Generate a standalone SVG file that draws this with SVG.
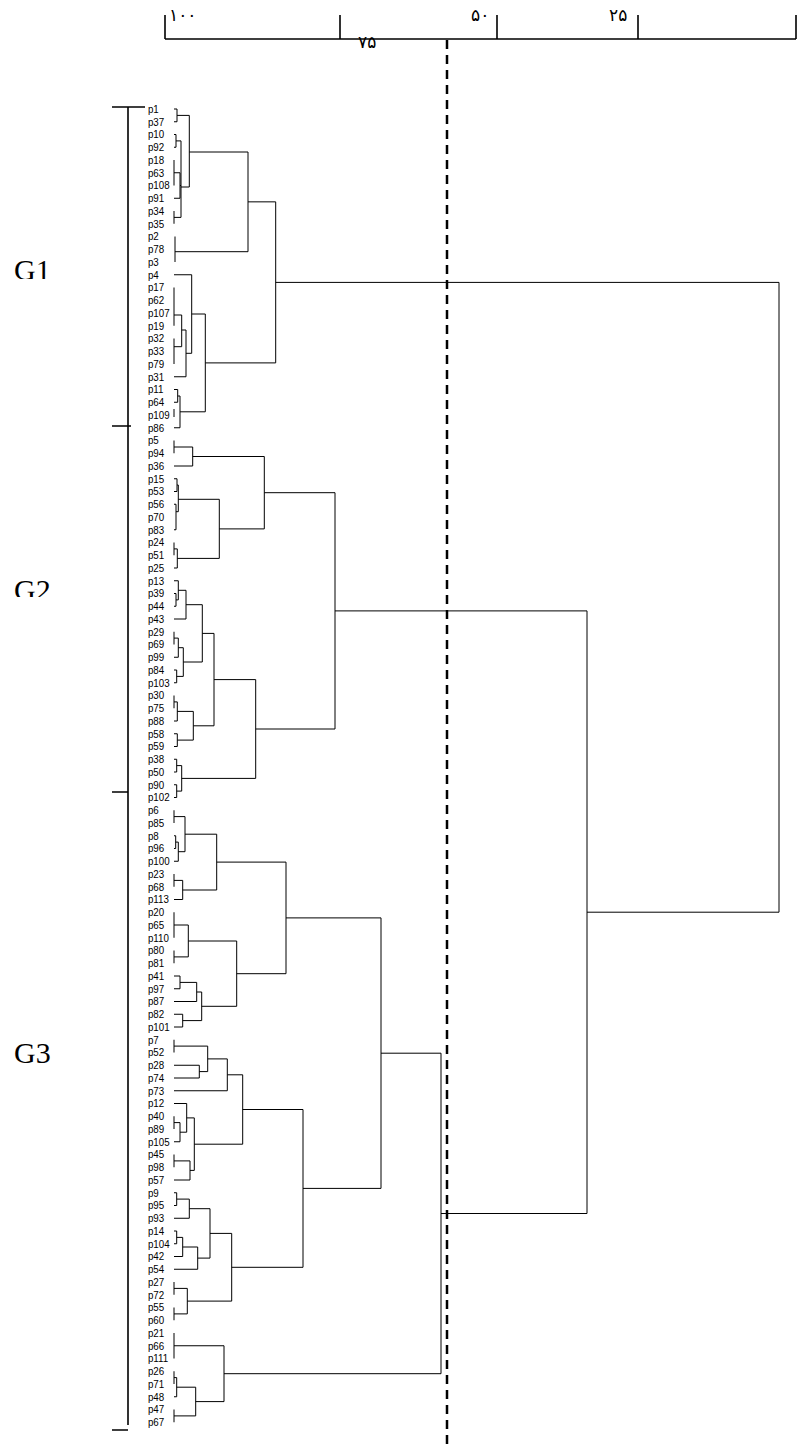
<svg xmlns="http://www.w3.org/2000/svg" width="806" height="1447" viewBox="0 0 806 1447">
<style>
.ln{fill:none;stroke:#000;stroke-width:1}
.ax{fill:none;stroke:#000;stroke-width:1.6}
.lb{font-family:"Liberation Sans Narrow","Liberation Sans",Arial,sans-serif;font-size:11.5px;fill:#000}
.gl{font-family:"Liberation Serif","Times New Roman",serif;font-size:30px;fill:#000}
.fa{font-family:"DejaVu Sans","Noto Sans",sans-serif;font-size:17px;fill:#000}
</style>
<defs>
<clipPath id="c1"><rect x="0" y="240" width="110" height="39"/></clipPath>
<clipPath id="c2"><rect x="0" y="560" width="110" height="37"/></clipPath>
</defs>
<rect width="806" height="1447" fill="#fff"/>
<g id="axis">
<path class="ax" d="M165 39 H796 M165 15 V39 M340 15 V39 M497 15 V39 M638 15 V39 M796 15 V39"/>
<text class="fa" x="169" y="21">۱۰۰</text>
<text class="fa" x="358" y="48">۷۵</text>
<text class="fa" x="471" y="21">۵۰</text>
<text class="fa" x="609" y="21">۲۵</text>
</g>
<g id="cutline">
<path d="M447 40 V1447" fill="none" stroke="#000" stroke-width="2.5" stroke-dasharray="9 6"/>
</g>
<g id="groupbar">
<path class="ax" d="M128 107 V1425 M112 107 H145 M112 426 H131 M112 792 H128 M112 1430 H128"/>
</g>
<g id="group-G1"><text class="gl" x="14" y="280" clip-path="url(#c1)">G1</text></g>
<g id="group-G2"><text class="gl" x="14" y="600" clip-path="url(#c2)">G2</text></g>
<g id="group-G3"><text class="gl" x="14" y="1063">G3</text></g>
<g id="connectors">
<path class="ln" d="M174 109 H177 V121.75 H174 M177 115.4 H189.3
M174 134.5 H176 V147.25 H174 M176 140.9 H181
M174 160 V185.5 M174 172.75 H180 V198.25 H174 M180 185.5 H181
M174 211 V223.75 M174 217.4 H181
M181 140.9 V217.4 M181 187 H189.3
M189.3 115.4 V187 M189.3 152 H248
M175 236.5 V262 M175 251.7 H248
M248 152 V251.7 M248 201.85 H275.7
M174 287.5 V325.75 M174 315 H181.7
M174 338.5 V364 M174 346.7 H181.7
M181.7 315 V346.7 M181.7 330 H186
M186 330 V376.75 H174 M186 353.3 H191.7
M174 274.75 H191.7 V353.3 M191.7 314 H205.3
M174 389.5 H177.7 V402.25 H174 M177.7 396 H180
M174 409 V417 M180 396 V427.75 H174 M180 411.8 H205.3
M205.3 314 V411.8 M205.3 362.9 H275.7
M275.7 201.85 V362.9 M275.7 282.4 H779"/>
<path class="ln" d="M174 440.5 V453.25 M174 447 H192.7 M174 466 H192.7 M192.7 447 V466 M192.7 456.5 H264.3
M174 478.75 H177 V491.5 H174 M177 485 H178.3
M174 504.25 H176 V529.75 H174 M176 511.7 H178.3
M178.3 485 V511.7 M178.3 499.3 H219.3
M174 542.5 V555.25 M174 548.9 H177.3 V568 H174 M177.3 558.4 H219.3
M219.3 499.3 V558.4 M219.3 528.9 H264.3
M264.3 456.5 V528.9 M264.3 492.7 H335
M174 593.5 H176 V606.25 H174 M176 599.9 H178.3
M174 580.75 H178.3 V599.9 M178.3 590.3 H186
M174 619 H186 V590.3 M186 604.7 H202.3
M174 631.75 V644.5 M174 638.1 H178.3 V657.25 H174 M178.3 647.7 H183.3
M174 670 H176.7 V682.75 H174 M176.7 676.4 H183.3
M183.3 647.7 V676.4 M183.3 662 H202.3
M202.3 604.7 V662 M202.3 633.4 H214
M174 695.5 V708.25 M174 701.9 H177.3 V721 H174 M177.3 711.4 H193.3
M174 733.75 H177.3 V746.5 H174 M177.3 740.1 H193.3
M193.3 711.4 V740.1 M193.3 725.8 H214
M214 633.4 V725.8 M214 679.6 H255.7
M174 759.25 H176.7 V772 H174 M176.7 765.6 H181.7
M174 784.75 H176.7 V797.5 H174 M176.7 791.1 H181.7
M181.7 765.6 V791.1 M181.7 778.4 H255.7
M255.7 679.6 V778.4 M255.7 729 H335
M335 492.7 V729 M335 610.9 H587"/>
<path class="ln" d="M174 810.25 V823 M174 816.6 H185
M174 835.75 H175.7 V848.5 H174 M175.7 842.1 H178.3
M178.3 842.1 V861.25 H174 M178.3 851.7 H185
M185 816.6 V851.7 M185 834.2 H216.7
M174 874 V886.75 M174 880.4 H182.7 V899.5 H174 M182.7 890 H216.7
M216.7 834.2 V890 M216.7 862.1 H286
M174 912.25 V937.75 M174 925 H188.3
M174 950.5 V963.25 M174 956.9 H188.3
M188.3 925 V956.9 M188.3 941 H236.7
M174 976 H180 V988.75 H174 M180 982.4 H196.7
M196.7 982.4 V1001.5 H174 M196.7 992 H201.7
M174 1014.25 H182.7 V1027 H174 M182.7 1020.6 H201.7
M201.7 992 V1020.6 M201.7 1006.3 H236.7
M236.7 941 V1006.3 M236.7 973.7 H286
M286 862.1 V973.7 M286 917.9 H381
M174 1039.75 V1052.5 M174 1046.1 H207.7
M174 1065.25 H199.3 V1078 H174 M199.3 1071.6 H207.7
M207.7 1046.1 V1071.6 M207.7 1058.9 H227.3
M227.3 1058.9 V1090.75 H174 M227.3 1074.8 H242.7
M174 1116.25 V1129 M174 1122.6 H180 V1141.75 H174 M180 1132.2 H186.7
M174 1103.5 H186.7 V1132.2 M186.7 1117.9 H194.3
M174 1154.5 V1167.25 M174 1160.9 H190 V1180 H174 M190 1170.4 H194.3
M194.3 1117.9 V1170.4 M194.3 1144.2 H242.7
M242.7 1074.8 V1144.2 M242.7 1109.5 H303
M174 1192.75 H176.7 V1205.5 H174 M176.7 1199.1 H189.3
M189.3 1199.1 V1218.25 H174 M189.3 1208.7 H210
M174 1231 H176.7 V1243.75 H174 M176.7 1237.4 H182.7
M182.7 1237.4 V1256.5 H174 M182.7 1247 H197.7
M197.7 1247 V1269.25 H174 M197.7 1258.1 H210
M210 1208.7 V1258.1 M210 1233.4 H231.7
M174 1282 V1294.75 M174 1288.4 H187.3
M174 1307.5 V1320.25 M174 1313.9 H187.3
M187.3 1288.4 V1313.9 M187.3 1301.1 H231.7
M231.7 1233.4 V1301.1 M231.7 1267.3 H303
M303 1109.5 V1267.3 M303 1188.4 H381
M381 917.9 V1188.4 M381 1053.2 H441
M174 1333 V1358.5 M174 1345.75 H224
M174 1371.25 V1384 M174 1377.6 H176.7 V1396.75 H174 M176.7 1387.2 H195.7
M174 1409.5 V1422.25 M174 1415.9 H195.7
M195.7 1387.2 V1415.9 M195.7 1401.6 H224
M224 1345.75 V1401.6 M224 1373.7 H441
M441 1053.2 V1373.7 M441 1213.5 H587
M587 610.9 V1213.5 M587 912.2 H779
M779 282.4 V912.2"/>
</g>
<g id="leaves" transform="scale(0.85,1)">
<g id="p1"><text class="lb" x="174" y="113">p1</text></g>
<g id="p37"><text class="lb" x="174" y="125.75">p37</text></g>
<g id="p10"><text class="lb" x="174" y="138.5">p10</text></g>
<g id="p92"><text class="lb" x="174" y="151.25">p92</text></g>
<g id="p18"><text class="lb" x="174" y="164">p18</text></g>
<g id="p63"><text class="lb" x="174" y="176.75">p63</text></g>
<g id="p108"><text class="lb" x="174" y="189.5">p108</text></g>
<g id="p91"><text class="lb" x="174" y="202.25">p91</text></g>
<g id="p34"><text class="lb" x="174" y="215">p34</text></g>
<g id="p35"><text class="lb" x="174" y="227.75">p35</text></g>
<g id="p2"><text class="lb" x="174" y="240.5">p2</text></g>
<g id="p78"><text class="lb" x="174" y="253.25">p78</text></g>
<g id="p3"><text class="lb" x="174" y="266">p3</text></g>
<g id="p4"><text class="lb" x="174" y="278.75">p4</text></g>
<g id="p17"><text class="lb" x="174" y="291.5">p17</text></g>
<g id="p62"><text class="lb" x="174" y="304.25">p62</text></g>
<g id="p107"><text class="lb" x="174" y="317">p107</text></g>
<g id="p19"><text class="lb" x="174" y="329.75">p19</text></g>
<g id="p32"><text class="lb" x="174" y="342.5">p32</text></g>
<g id="p33"><text class="lb" x="174" y="355.25">p33</text></g>
<g id="p79"><text class="lb" x="174" y="368">p79</text></g>
<g id="p31"><text class="lb" x="174" y="380.75">p31</text></g>
<g id="p11"><text class="lb" x="174" y="393.5">p11</text></g>
<g id="p64"><text class="lb" x="174" y="406.25">p64</text></g>
<g id="p109"><text class="lb" x="174" y="419">p109</text></g>
<g id="p86"><text class="lb" x="174" y="431.75">p86</text></g>
<g id="p5"><text class="lb" x="174" y="444.5">p5</text></g>
<g id="p94"><text class="lb" x="174" y="457.25">p94</text></g>
<g id="p36"><text class="lb" x="174" y="470">p36</text></g>
<g id="p15"><text class="lb" x="174" y="482.75">p15</text></g>
<g id="p53"><text class="lb" x="174" y="495.5">p53</text></g>
<g id="p56"><text class="lb" x="174" y="508.25">p56</text></g>
<g id="p70"><text class="lb" x="174" y="521">p70</text></g>
<g id="p83"><text class="lb" x="174" y="533.75">p83</text></g>
<g id="p24"><text class="lb" x="174" y="546.5">p24</text></g>
<g id="p51"><text class="lb" x="174" y="559.25">p51</text></g>
<g id="p25"><text class="lb" x="174" y="572">p25</text></g>
<g id="p13"><text class="lb" x="174" y="584.75">p13</text></g>
<g id="p39"><text class="lb" x="174" y="597.5">p39</text></g>
<g id="p44"><text class="lb" x="174" y="610.25">p44</text></g>
<g id="p43"><text class="lb" x="174" y="623">p43</text></g>
<g id="p29"><text class="lb" x="174" y="635.75">p29</text></g>
<g id="p69"><text class="lb" x="174" y="648.5">p69</text></g>
<g id="p99"><text class="lb" x="174" y="661.25">p99</text></g>
<g id="p84"><text class="lb" x="174" y="674">p84</text></g>
<g id="p103"><text class="lb" x="174" y="686.75">p103</text></g>
<g id="p30"><text class="lb" x="174" y="699.5">p30</text></g>
<g id="p75"><text class="lb" x="174" y="712.25">p75</text></g>
<g id="p88"><text class="lb" x="174" y="725">p88</text></g>
<g id="p58"><text class="lb" x="174" y="737.75">p58</text></g>
<g id="p59"><text class="lb" x="174" y="750.5">p59</text></g>
<g id="p38"><text class="lb" x="174" y="763.25">p38</text></g>
<g id="p50"><text class="lb" x="174" y="776">p50</text></g>
<g id="p90"><text class="lb" x="174" y="788.75">p90</text></g>
<g id="p102"><text class="lb" x="174" y="801.5">p102</text></g>
<g id="p6"><text class="lb" x="174" y="814.25">p6</text></g>
<g id="p85"><text class="lb" x="174" y="827">p85</text></g>
<g id="p8"><text class="lb" x="174" y="839.75">p8</text></g>
<g id="p96"><text class="lb" x="174" y="852.5">p96</text></g>
<g id="p100"><text class="lb" x="174" y="865.25">p100</text></g>
<g id="p23"><text class="lb" x="174" y="878">p23</text></g>
<g id="p68"><text class="lb" x="174" y="890.75">p68</text></g>
<g id="p113"><text class="lb" x="174" y="903.5">p113</text></g>
<g id="p20"><text class="lb" x="174" y="916.25">p20</text></g>
<g id="p65"><text class="lb" x="174" y="929">p65</text></g>
<g id="p110"><text class="lb" x="174" y="941.75">p110</text></g>
<g id="p80"><text class="lb" x="174" y="954.5">p80</text></g>
<g id="p81"><text class="lb" x="174" y="967.25">p81</text></g>
<g id="p41"><text class="lb" x="174" y="980">p41</text></g>
<g id="p97"><text class="lb" x="174" y="992.75">p97</text></g>
<g id="p87"><text class="lb" x="174" y="1005.5">p87</text></g>
<g id="p82"><text class="lb" x="174" y="1018.25">p82</text></g>
<g id="p101"><text class="lb" x="174" y="1031">p101</text></g>
<g id="p7"><text class="lb" x="174" y="1043.75">p7</text></g>
<g id="p52"><text class="lb" x="174" y="1056.5">p52</text></g>
<g id="p28"><text class="lb" x="174" y="1069.25">p28</text></g>
<g id="p74"><text class="lb" x="174" y="1082">p74</text></g>
<g id="p73"><text class="lb" x="174" y="1094.75">p73</text></g>
<g id="p12"><text class="lb" x="174" y="1107.5">p12</text></g>
<g id="p40"><text class="lb" x="174" y="1120.25">p40</text></g>
<g id="p89"><text class="lb" x="174" y="1133">p89</text></g>
<g id="p105"><text class="lb" x="174" y="1145.75">p105</text></g>
<g id="p45"><text class="lb" x="174" y="1158.5">p45</text></g>
<g id="p98"><text class="lb" x="174" y="1171.25">p98</text></g>
<g id="p57"><text class="lb" x="174" y="1184">p57</text></g>
<g id="p9"><text class="lb" x="174" y="1196.75">p9</text></g>
<g id="p95"><text class="lb" x="174" y="1209.5">p95</text></g>
<g id="p93"><text class="lb" x="174" y="1222.25">p93</text></g>
<g id="p14"><text class="lb" x="174" y="1235">p14</text></g>
<g id="p104"><text class="lb" x="174" y="1247.75">p104</text></g>
<g id="p42"><text class="lb" x="174" y="1260.5">p42</text></g>
<g id="p54"><text class="lb" x="174" y="1273.25">p54</text></g>
<g id="p27"><text class="lb" x="174" y="1286">p27</text></g>
<g id="p72"><text class="lb" x="174" y="1298.75">p72</text></g>
<g id="p55"><text class="lb" x="174" y="1311.5">p55</text></g>
<g id="p60"><text class="lb" x="174" y="1324.25">p60</text></g>
<g id="p21"><text class="lb" x="174" y="1337">p21</text></g>
<g id="p66"><text class="lb" x="174" y="1349.75">p66</text></g>
<g id="p111"><text class="lb" x="174" y="1362.5">p111</text></g>
<g id="p26"><text class="lb" x="174" y="1375.25">p26</text></g>
<g id="p71"><text class="lb" x="174" y="1388">p71</text></g>
<g id="p48"><text class="lb" x="174" y="1400.75">p48</text></g>
<g id="p47"><text class="lb" x="174" y="1413.5">p47</text></g>
<g id="p67"><text class="lb" x="174" y="1426.25">p67</text></g>
</g>
</svg>
